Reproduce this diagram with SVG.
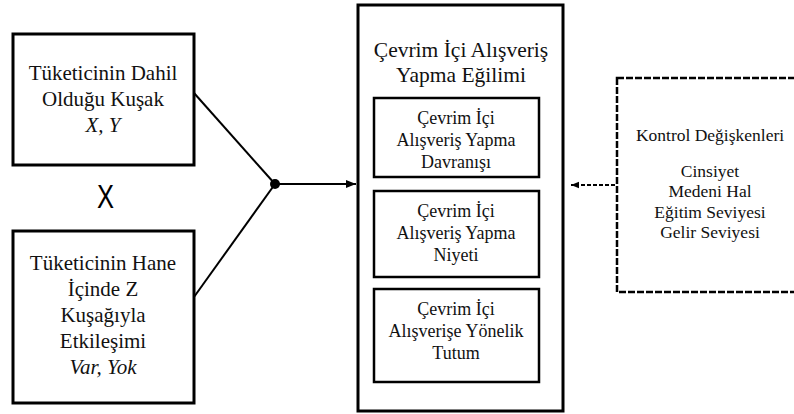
<svg xmlns="http://www.w3.org/2000/svg" width="794" height="414" viewBox="0 0 794 414">
<defs>
<style>
.box{fill:#fff;stroke:#000;stroke-width:3}
.ibox{fill:#fff;stroke:#000;stroke-width:2.5}
.dbox{fill:#fff;stroke:#000;stroke-width:2.5;stroke-dasharray:7 2}
.line{stroke:#000;stroke-width:2;fill:none}
</style>
<marker id="ah" viewBox="0 0 10 10" refX="10" refY="5" markerWidth="10" markerHeight="10" markerUnits="userSpaceOnUse" orient="auto">
<path d="M0,1 L10,5 L0,9 z" fill="#000"/>
</marker>
<marker id="ah2" viewBox="0 0 10 10" refX="10" refY="5" markerWidth="8" markerHeight="8" markerUnits="userSpaceOnUse" orient="auto">
<path d="M0,1 L10,5 L0,9 z" fill="#000"/>
</marker>
</defs>
<rect width="794" height="414" fill="#fff"/>

<g id="node-kusak" font-family="Liberation Serif, Times New Roman, serif" font-size="21" text-anchor="middle" fill="#111">
<rect class="box" x="13" y="34" width="181" height="131"/>
<text x="103" y="80">Tüketicinin Dahil</text>
<text x="103" y="106">Olduğu Kuşak</text>
<text x="103" y="132" font-style="italic">X, Y</text>
</g>

<g id="node-hane" font-family="Liberation Serif, Times New Roman, serif" font-size="21" text-anchor="middle" fill="#111">
<rect class="box" x="13" y="231" width="181" height="172"/>
<text x="103" y="270">Tüketicinin Hane</text>
<text x="103" y="296">İçinde Z</text>
<text x="103" y="322">Kuşağıyla</text>
<text x="103" y="348">Etkileşimi</text>
<text x="103" y="374" font-style="italic">Var, Yok</text>
</g>

<g id="node-egilim" font-family="Liberation Serif, Times New Roman, serif" font-size="21.5" text-anchor="middle" fill="#111">
<rect class="box" x="358" y="5" width="205" height="406"/>
<text x="461" y="57">Çevrim İçi Alışveriş</text>
<text x="461" y="82">Yapma Eğilimi</text>
</g>

<g id="node-davranis" font-family="Liberation Serif, Times New Roman, serif" font-size="18" text-anchor="middle" fill="#111">
<rect class="ibox" x="374" y="98" width="165" height="79"/>
<text x="456" y="124">Çevrim İçi</text>
<text x="456" y="146">Alışveriş Yapma</text>
<text x="456" y="168">Davranışı</text>
</g>

<g id="node-niyet" font-family="Liberation Serif, Times New Roman, serif" font-size="18" text-anchor="middle" fill="#111">
<rect class="ibox" x="374" y="191" width="165" height="86"/>
<text x="456" y="217">Çevrim İçi</text>
<text x="456" y="239">Alışveriş Yapma</text>
<text x="456" y="261">Niyeti</text>
</g>

<g id="node-tutum" font-family="Liberation Serif, Times New Roman, serif" font-size="18" text-anchor="middle" fill="#111">
<rect class="ibox" x="374" y="289" width="165" height="93"/>
<text x="456" y="315">Çevrim İçi</text>
<text x="456" y="337">Alışverişe Yönelik</text>
<text x="456" y="359">Tutum</text>
</g>

<g id="node-kontrol" font-family="Liberation Serif, Times New Roman, serif" font-size="17.5" text-anchor="middle" fill="#111">
<rect class="dbox" x="617" y="78" width="190" height="214"/>
<text x="710" y="141">Kontrol Değişkenleri</text>
<text x="710" y="177">Cinsiyet</text>
<text x="710" y="197">Medeni Hal</text>
<text x="710" y="218">Eğitim Seviyesi</text>
<text x="710" y="238">Gelir Seviyesi</text>
</g>

<g id="node-x">
<text x="0" y="0" transform="translate(105.5,208) scale(0.75,1)" font-family="Liberation Sans, Arial, sans-serif" font-size="34" text-anchor="middle" fill="#000">X</text>
</g>

<g id="connectors">
<line class="line" x1="194" y1="93" x2="275" y2="184"/>
<line class="line" x1="194" y1="297" x2="275" y2="184"/>
<circle cx="275" cy="184" r="5" fill="#000"/>
<line class="line" x1="275" y1="184" x2="356" y2="184" marker-end="url(#ah)"/>
<line x1="615" y1="185" x2="571" y2="185" stroke="#000" stroke-width="1.8" stroke-dasharray="4 2" marker-end="url(#ah2)"/>
</g>
</svg>
